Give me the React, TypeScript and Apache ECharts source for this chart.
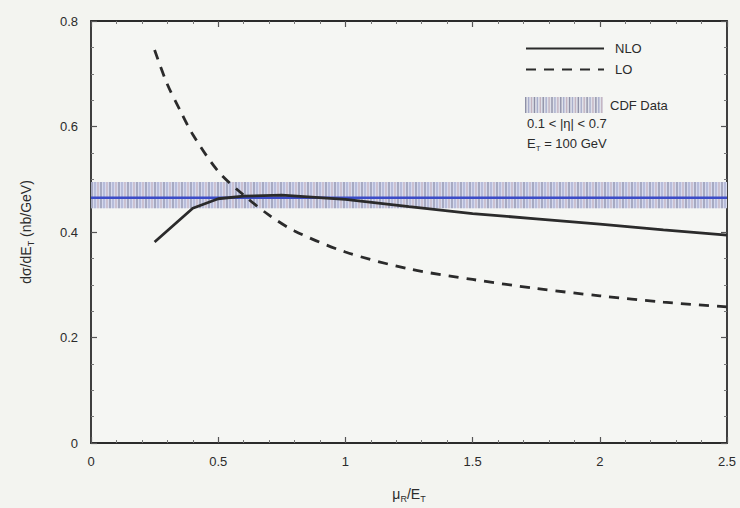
import React, { useEffect, useRef } from "react";
import * as echarts from "echarts";

const nloX = [0.25, 0.4, 0.5, 0.6, 0.75, 1.0, 1.25, 1.5, 1.75, 2.0, 2.25, 2.5];
const nloY = [0.381, 0.445, 0.463, 0.468, 0.47, 0.462, 0.448, 0.435, 0.425, 0.415, 0.404, 0.394];
const loX = [0.25, 0.3, 0.35, 0.4, 0.5, 0.6, 0.7, 0.8, 1.0, 1.25, 1.5, 1.75, 2.0, 2.25, 2.5];
const loY = [0.745, 0.68, 0.631, 0.585, 0.515, 0.47, 0.432, 0.402, 0.362, 0.33, 0.31, 0.293, 0.279, 0.267, 0.258];
// CDF band: [xStart, xEnd, low, high, central]
const cdfBand = [[0, 2.5, 0.445, 0.495, 0.465]];
const xTicks = [0, 0.5, 1, 1.5, 2, 2.5];
const yTicks = [0, 0.2, 0.4, 0.6, 0.8];

const FONT = "Liberation Sans, Arial, Helvetica, sans-serif";
const INK = "#2b2b2b";

function hatchIcon(): string {
  const w = 80, h = 16;
  let s = `<svg xmlns='http://www.w3.org/2000/svg' width='${w}' height='${h}'><rect width='${w}' height='${h}' fill='#dfe1ea'/>`;
  for (let x = 0; x < w; x += 3) {
    const c = (x / 3) % 3 === 0 ? "#8e90a6" : (x / 3) % 3 === 1 ? "#a9aecb" : "#c4b4c0";
    s += `<rect x='${x}' y='0' width='1.4' height='${h}' fill='${c}'/>`;
  }
  s += "</svg>";
  return "image://data:image/svg+xml;charset=utf-8," + encodeURIComponent(s);
}

export default function App() {
  const ref = useRef<HTMLDivElement>(null);
  useEffect(() => {
    if (!ref.current) return;
    const chart = echarts.init(ref.current, null, { renderer: "svg" });
    const axisCommon = {
      type: "value" as const,
      axisLine: { show: true, onZero: false, lineStyle: { color: INK, width: 1.8 } },
      axisTick: { show: true, inside: true, length: 6, lineStyle: { color: "#555", width: 1.2 } },
      minorTick: { show: true, length: 3, lineStyle: { color: "#777" } },
      splitLine: { show: false },
    };
    const sub = { fontSize: 9, fontFamily: FONT, color: INK, verticalAlign: "bottom" as const, lineHeight: 18 };
    chart.setOption({
      animation: false,
      backgroundColor: "#f3f4f0",
      grid: { left: 91, right: 13, top: 21, bottom: 65, show: true, backgroundColor: "#f5f6f3", borderWidth: 0 },
      xAxis: [
        {
          ...axisCommon,
          min: 0,
          max: 2.5,
          interval: 0.5,
          minorTick: { ...axisCommon.minorTick, splitNumber: 5 },
          axisLabel: {
            color: INK,
            fontSize: 13,
            fontFamily: FONT,
            margin: 12,
            formatter: (v: number) => (xTicks.includes(v) ? String(v) : ""),
          },
          name: "μ{s|R}/E{s|T}",
          nameLocation: "middle",
          nameGap: 42,
          nameTextStyle: { color: INK, fontSize: 14, fontFamily: FONT, lineHeight: 18, rich: { s: sub } },
        },
        {
          ...axisCommon,
          position: "top",
          min: 0,
          max: 2.5,
          interval: 0.5,
          minorTick: { ...axisCommon.minorTick, splitNumber: 5 },
          axisLabel: { show: false },
        },
      ],
      yAxis: [
        {
          ...axisCommon,
          min: 0,
          max: 0.8,
          interval: 0.2,
          minorTick: { ...axisCommon.minorTick, splitNumber: 4 },
          axisLabel: {
            color: INK,
            fontSize: 13,
            fontFamily: FONT,
            margin: 13,
            formatter: (v: number) => {
              const m = yTicks.find((t) => Math.abs(t - v) < 1e-9);
              return m === undefined ? "" : String(m);
            },
          },
          name: "dσ/dE{s|T} (nb/GeV)",
          nameLocation: "middle",
          nameGap: 56,
          nameTextStyle: { color: INK, fontSize: 14, fontFamily: FONT, lineHeight: 18, rich: { s: sub } },
        },
        {
          ...axisCommon,
          position: "right",
          min: 0,
          max: 0.8,
          interval: 0.2,
          minorTick: { ...axisCommon.minorTick, splitNumber: 4 },
          axisLabel: { show: false },
        },
      ],
      legend: [
        {
          orient: "vertical",
          left: 520,
          top: 37,
          itemWidth: 78,
          itemHeight: 16,
          itemGap: 8,
          itemStyle: { opacity: 0 },
          data: ["NLO", "LO"],
          textStyle: { color: INK, fontSize: 13, fontFamily: FONT, padding: [0, 0, 0, 6] },
        },
        {
          orient: "vertical",
          left: 520,
          top: 92,
          itemWidth: 78,
          itemHeight: 16,
          data: [{ name: "CDF Data", icon: hatchIcon() }],
          textStyle: { color: INK, fontSize: 13, fontFamily: FONT, padding: [0, 0, 0, 2] },
        },
      ],
      graphic: [
        {
          type: "text",
          left: 527,
          top: 117,
          style: { text: "0.1 < |η| < 0.7", fill: INK, font: `13px ${FONT}` },
        },
        {
          type: "text",
          left: 527,
          top: 135,
          style: {
            text: "E{s|T} = 100 GeV",
            fill: INK,
            font: `13px ${FONT}`,
            rich: { s: { fontSize: 8, fontFamily: FONT, fill: INK, verticalAlign: "bottom", lineHeight: 17 } },
            lineHeight: 17,
          },
        },
      ],
      series: [
        {
          name: "CDF Data",
          type: "custom",
          data: cdfBand,
          clip: true,
          z: 1,
          renderItem: (params: any, api: any) => {
            const x0 = api.value(0), x1 = api.value(1), lo = api.value(2), hi = api.value(3), c = api.value(4);
            const pTL = api.coord([x0, hi]);
            const pBR = api.coord([x1, lo]);
            const pC = api.coord([x0, c]);
            const children: any[] = [
              {
                type: "rect",
                shape: { x: pTL[0], y: pTL[1], width: pBR[0] - pTL[0], height: pBR[1] - pTL[1] },
                style: { fill: "#d6daee" },
              },
            ];
            let k = 0;
            for (let x = pTL[0] + 1; x < pBR[0]; x += 3, k++) {
              const col = k % 3 === 0 ? "#8d90aa" : k % 3 === 1 ? "#a6acd0" : "#c4b3c0";
              children.push({
                type: "line",
                shape: { x1: x, y1: pTL[1], x2: x, y2: pBR[1] },
                style: { stroke: col, lineWidth: 1.3 },
              });
            }
            children.push({
              type: "line",
              shape: { x1: pTL[0], y1: pC[1], x2: pBR[0], y2: pC[1] },
              style: { stroke: "#3c4cc8", lineWidth: 2.5 },
            });
            return { type: "group", children };
          },
        },
        {
          name: "NLO",
          type: "line",
          data: nloX.map((x, i) => [x, nloY[i]]),
          symbol: "none",
          z: 3,
          lineStyle: { color: INK, width: 2.8 },
          itemStyle: { color: INK },
        },
        {
          name: "LO",
          type: "line",
          data: loX.map((x, i) => [x, loY[i]]),
          symbol: "none",
          smooth: 0.3,
          z: 3,
          lineStyle: { color: INK, width: 2.8, type: [10, 8] },
          itemStyle: { color: INK },
        },
      ],
    });
    return () => chart.dispose();
  }, []);
  return <div ref={ref} style={{ width: 740, height: 508, position: "absolute", left: 0, top: 0 }} />;
}
